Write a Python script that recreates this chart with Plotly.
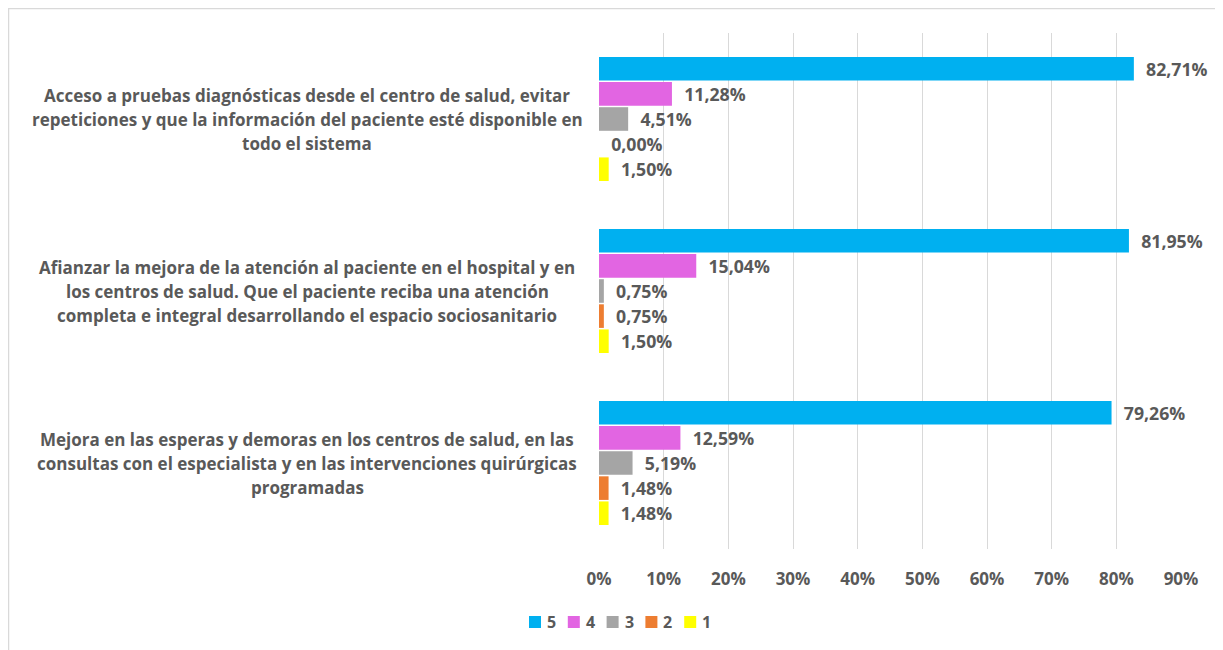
import plotly.graph_objects as go

categories = [
    "Acceso a pruebas diagnósticas desde el centro de salud, evitar<br>repeticiones y que la información del paciente esté disponible en<br>todo el sistema",
    "Afianzar la mejora de la atención al paciente en el hospital y en<br>los centros de salud. Que el paciente reciba una atención<br>completa e integral desarrollando el espacio sociosanitario",
    "Mejora en las esperas y demoras en los centros de salud, en las<br>consultas con el especialista y en las intervenciones quirúrgicas<br>programadas",
]
series_names = ["5", "4", "3", "2", "1"]
values_5 = [0.8271, 0.8195, 0.7926]
values_4 = [0.1128, 0.1504, 0.1259]
values_3 = [0.0451, 0.0075, 0.0519]
values_2 = [0.0000, 0.0075, 0.0148]
values_1 = [0.0150, 0.0150, 0.0148]
series_values = [values_5, values_4, values_3, values_2, values_1]
colors = ["#00B0F0", "#E265E2", "#A5A5A5", "#ED7D31", "#FFFF00"]
tick_vals = [0, 0.1, 0.2, 0.3, 0.4, 0.5, 0.6, 0.7, 0.8, 0.9]

FONT = "Open Sans"
GREY = "#595959"

# plot area in figure pixels
W0, W1 = 591, 1173
T, B = 25, 541
FIG_W, FIG_H = 1223, 650

def px_to_paper_x(px):
    return (px - W0) / (W1 - W0)
def px_to_paper_y(py):
    return (B - py) / (B - T)

fig = go.Figure()
for name, vals, col in zip(series_names, series_values, colors):
    fig.add_trace(go.Bar(
        y=list(range(len(categories))), x=vals, name=name, orientation="h",
        marker=dict(color=col, line=dict(width=0)),
        texttemplate="\u00a0\u00a0%{x:.2%}", textposition="outside",
        textfont=dict(family=FONT, size=18, color=GREY, weight="bold"),
        cliponaxis=False, hoverinfo="skip", showlegend=False,
    ))

# category labels, centred lines
LINE_H = 24
for i, cat in enumerate(categories):
    lines = cat.split("<br>")
    n = len(lines)
    for j, line in enumerate(lines):
        fig.add_annotation(
            x=px_to_paper_x(299), xref="paper", y=i, yref="y", text=line,
            showarrow=False, xanchor="center", yanchor="middle",
            yshift=((n - 1) / 2 - j) * LINE_H,
            font=dict(family=FONT, size=17, color=GREY, weight="bold"),
        )

# legend (compact, like the original)
LEG_X0, LEG_STEP, LEG_Y, SQ = 521, 38.8, 614, 12
for k, (name, col) in enumerate(zip(series_names, colors)):
    x0 = LEG_X0 + k * LEG_STEP
    fig.add_shape(type="rect", xref="paper", yref="paper",
                  x0=px_to_paper_x(x0), x1=px_to_paper_x(x0 + SQ),
                  y0=px_to_paper_y(LEG_Y + SQ / 2), y1=px_to_paper_y(LEG_Y - SQ / 2),
                  line=dict(width=0), fillcolor=col)
    fig.add_annotation(x=px_to_paper_x(x0 + SQ + 4), xref="paper",
                       y=px_to_paper_y(LEG_Y), yref="paper", text=name,
                       showarrow=False, xanchor="left", yanchor="middle",
                       font=dict(family=FONT, size=16, color=GREY, weight="bold"))

fig.add_shape(type="rect", xref="paper", yref="paper",
              x0=px_to_paper_x(0.5), x1=px_to_paper_x(FIG_W + 20),
              y0=px_to_paper_y(FIG_H + 20), y1=px_to_paper_y(0.5),
              line=dict(color="#D9D9D9", width=1.5), fillcolor="rgba(0,0,0,0)", layer="below")

fig.update_layout(
    width=FIG_W, height=FIG_H,
    margin=dict(l=W0, r=FIG_W - W1, t=T, b=FIG_H - B),
    paper_bgcolor="white", plot_bgcolor="white",
    barmode="group", bargap=0.27, bargroupgap=0.06,
    separators=",.",
    showlegend=False,
    xaxis=dict(range=[0, 0.9], tickvals=tick_vals, tickformat=".0%",
               showgrid=True, gridcolor="#D9D9D9", gridwidth=1,
               zeroline=False, showline=False, ticks="",
               ticklabelstandoff=18,
               tickfont=dict(family=FONT, size=17, color=GREY, weight="bold")),
    yaxis=dict(range=[2.5, -0.5], showticklabels=False, showgrid=False,
               zeroline=False, showline=False, ticks=""),
)

fig.write_html("out.html")
